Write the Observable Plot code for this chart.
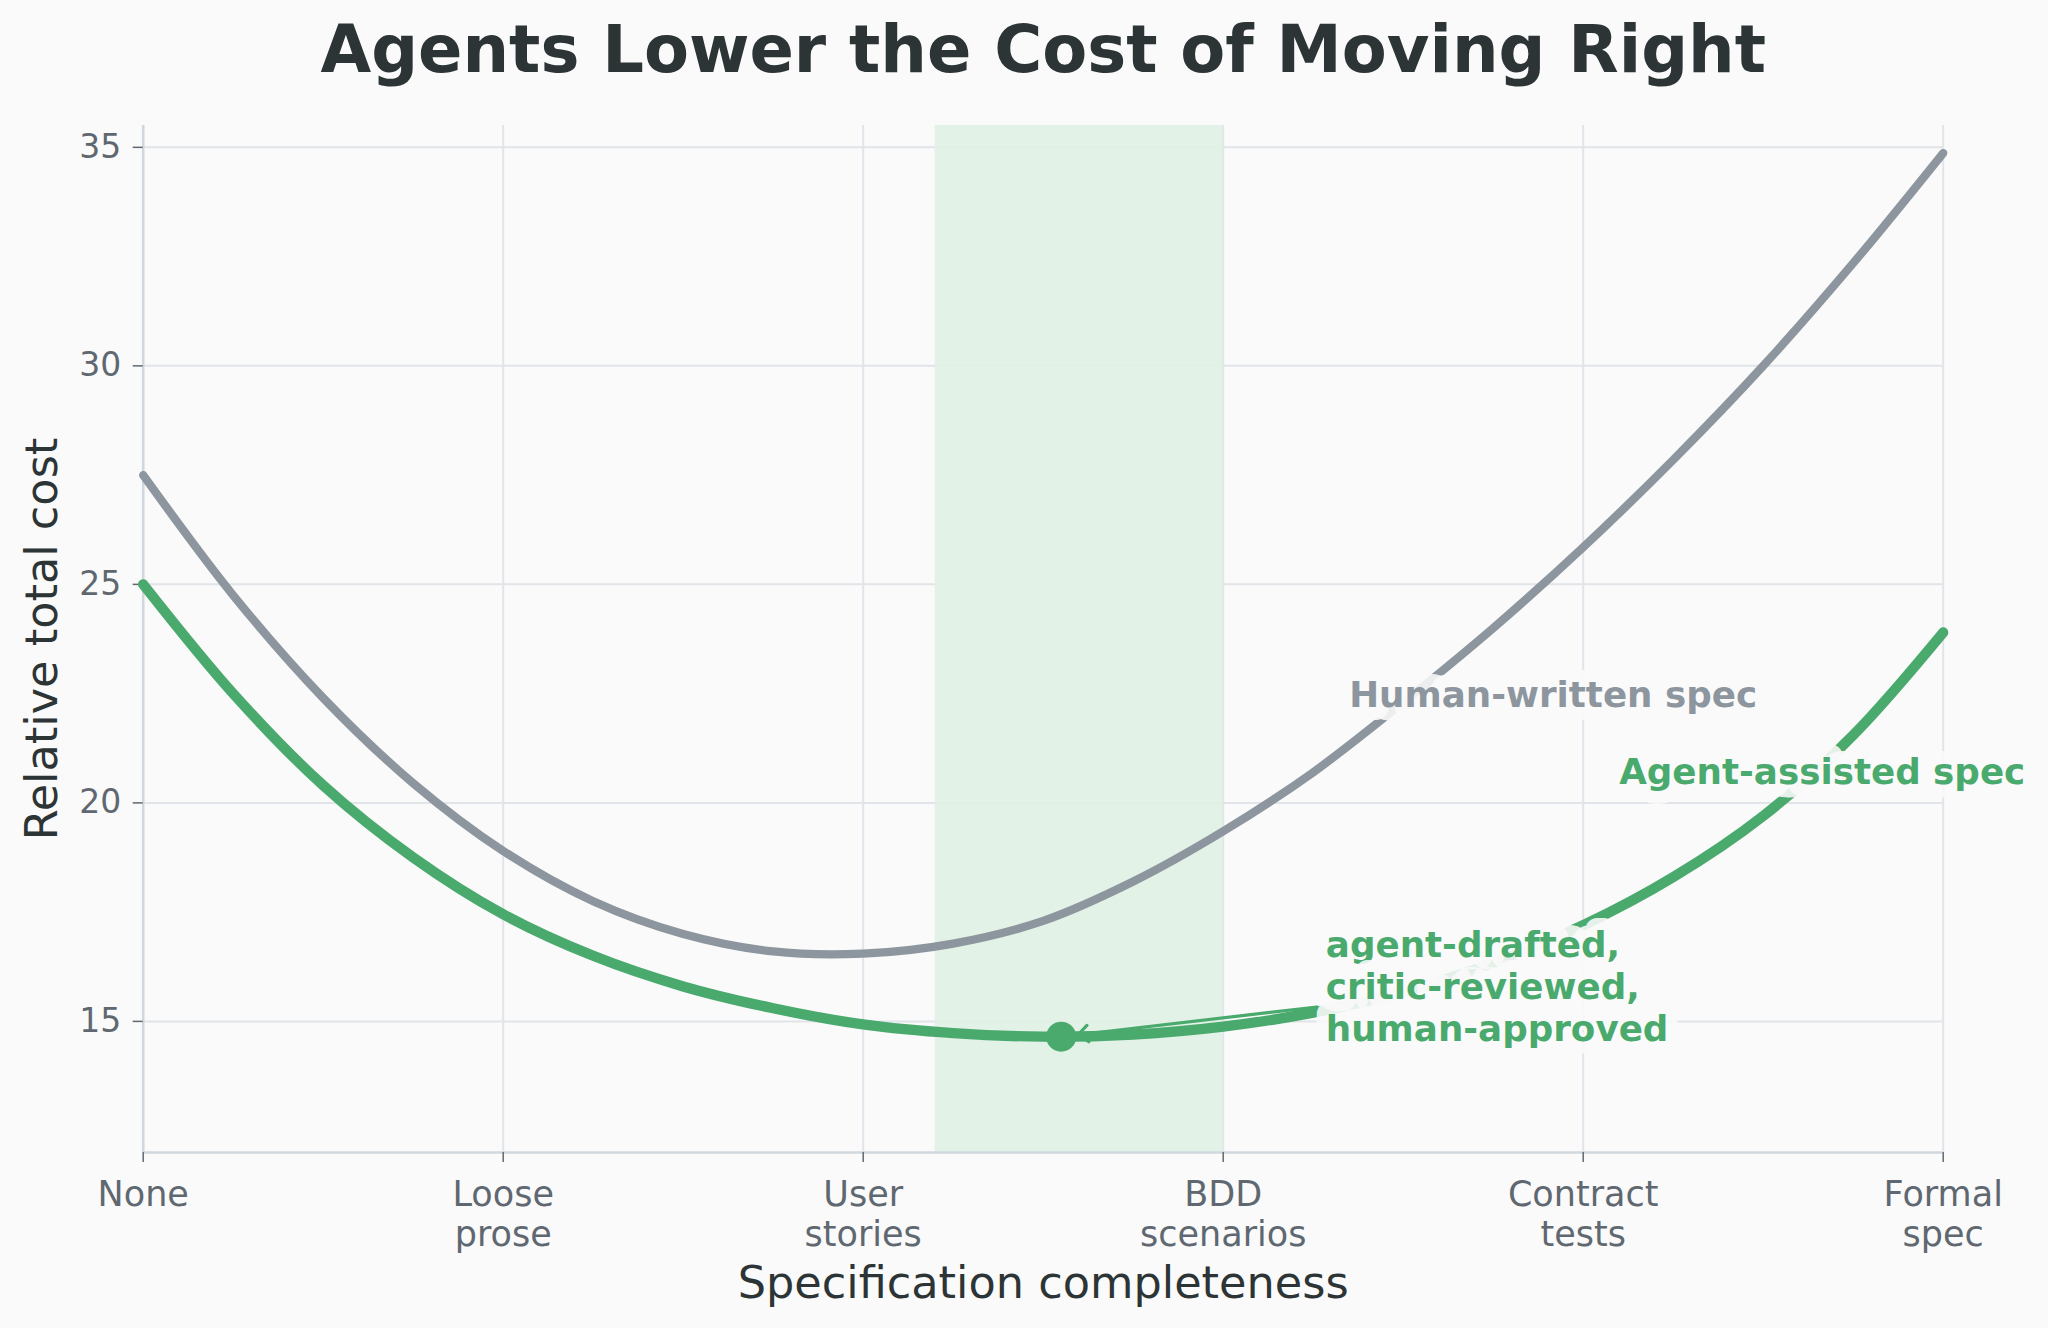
<!DOCTYPE html>
<html>
<head>
<meta charset="utf-8">
<script src="https://cdn.jsdelivr.net/npm/d3@7"></script>
<script src="https://cdn.jsdelivr.net/npm/@observablehq/plot@0.6"></script>
<style>
  html, body { margin: 0; padding: 0; background: #fafafa; }
  #chart svg { display: block; }
</style>
</head>
<body>
<div id="chart"></div>
<script>
// ---- data ----
const stages = ["None", "Loose\nprose", "User\nstories", "BDD\nscenarios", "Contract\ntests", "Formal\nspec"];
const stageTicks = [0, 1, 2, 3, 4, 5];
const sampleX = [0, 0.25, 0.5, 0.75, 1, 1.25, 1.5, 1.75, 2, 2.25, 2.5, 2.75, 3, 3.25, 3.5, 3.75, 4, 4.25, 4.5, 4.75, 5];
const humanCost = [27.5, 24.75, 22.4, 20.45, 18.9, 17.75, 17.0, 16.6, 16.55, 16.78, 17.3, 18.2, 19.35, 20.7, 22.3, 24.0, 25.85, 27.85, 30.0, 32.35, 34.87];
const agentCost = [25.0, 22.5, 20.4, 18.75, 17.45, 16.5, 15.8, 15.3, 14.93, 14.73, 14.65, 14.7, 14.88, 15.2, 15.68, 16.34, 17.2, 18.3, 19.7, 21.55, 23.9];
const yTicks = [15, 20, 25, 30, 35];
const yDomain = [12, 35.5];
const sweetSpot = [2.2, 3.0];
const optimumX = [2.55];
const optimumY = [14.65];
const calloutFrom = [3.26, 15.33];
const seriesLabels = ["Human-written spec", "Agent-assisted spec"];
const seriesLabelX = [3.35, 4.1];
const seriesLabelY = [22.45, 20.7];
const calloutText = ["agent-drafted,\ncritic-reviewed,\nhuman-approved"];
const calloutX = [3.285];
const calloutY = [15.82];
const titleText = "Agents Lower the Cost of Moving Right";
const xLabel = "Specification completeness";
const yLabel = "Relative total cost";

// ---- styling ----
const FONT = "'DejaVu Sans', sans-serif";
const GRAY = "#8d969e";
const GREEN = "#4aaa6e";
const BG = "#fafafa";
const DARK = "#2d3436";
const TICK = "#5f6870";

const human = sampleX.map((x, i) => ({x, y: humanCost[i]}));
const agent = sampleX.map((x, i) => ({x, y: agentCost[i]}));
const optimum = optimumX.map((x, i) => ({x, y: optimumY[i]}));
const arrowData = [{x1: calloutFrom[0], y1: calloutFrom[1], x2: optimumX[0], y2: optimumY[0]}];
const labelData = seriesLabels.map((t, i) => ({t, x: seriesLabelX[i], y: seriesLabelY[i]}));
const calloutData = calloutText.map((t, i) => ({t, x: calloutX[i], y: calloutY[i]}));

const chart = Plot.plot({
  width: 2048,
  height: 1328,
  marginLeft: 142.7,
  marginRight: 105.3,
  marginTop: 125,
  marginBottom: 176,
  style: {background: BG, fontFamily: FONT},
  x: {domain: [0, 5]},
  y: {domain: yDomain},
  marks: [
    Plot.gridX(stageTicks, {stroke: "#e1e4e8", strokeOpacity: 1, strokeWidth: 2}),
    Plot.gridY(yTicks, {stroke: "#e1e4e8", strokeOpacity: 1, strokeWidth: 2}),
    Plot.rect([sweetSpot], {x1: d => d[0], x2: d => d[1], fill: "#dff1e4", fillOpacity: 0.92}),
    Plot.ruleX([0], {stroke: "#d0d7de", strokeWidth: 2.5}),
    Plot.ruleY([yDomain[0]], {stroke: "#d0d7de", strokeWidth: 2.5}),
    Plot.axisX(stageTicks, {
      tickFormat: i => stages[i], fontSize: 35, tickSize: 10, tickPadding: 15,
      lineHeight: 1.14, color: TICK, strokeWidth: 1.5, label: null
    }),
    Plot.axisY(yTicks, {
      fontSize: 33, tickSize: 10, tickPadding: 12, color: TICK, strokeWidth: 1.5, label: null
    }),
    Plot.line(human, {x: "x", y: "y", stroke: GRAY, strokeWidth: 8.3, curve: "catmull-rom"}),
    Plot.line(agent, {x: "x", y: "y", stroke: GREEN, strokeWidth: 10.3, curve: "catmull-rom"}),
    Plot.arrow(arrowData, {
      x1: "x1", y1: "y1", x2: "x2", y2: "y2", stroke: GREEN, strokeWidth: 3.2,
      headLength: 6, headAngle: 80, insetEnd: 17
    }),
    Plot.dot(optimum, {x: "x", y: "y", r: 15, fill: GREEN}),
    Plot.text(labelData, {
      x: "x", y: "y", text: "t", textAnchor: "start", lineAnchor: "middle",
      fontSize: 35.7, fontWeight: "bold", fill: (d, i) => i === 0 ? GRAY : GREEN,
      stroke: BG, strokeOpacity: 0.9, strokeWidth: 26, strokeLinejoin: "round", paintOrder: "stroke"
    }),
    Plot.text(calloutData, {
      x: "x", y: "y", text: "t", textAnchor: "start", lineAnchor: "middle", lineHeight: 1.17,
      fontSize: 35.7, fontWeight: "bold", fill: GREEN,
      stroke: BG, strokeOpacity: 0.9, strokeWidth: 24, strokeLinejoin: "round", paintOrder: "stroke"
    }),
    Plot.text([titleText], {
      text: d => d, frameAnchor: "top", textAnchor: "middle", lineAnchor: "middle",
      dy: -74, fontSize: 65.5, fontWeight: "bold", fill: DARK
    }),
    Plot.text([xLabel], {
      text: d => d, frameAnchor: "bottom", textAnchor: "middle", lineAnchor: "middle",
      dy: 131, fontSize: 44.6, fill: DARK
    }),
    Plot.text([yLabel], {
      text: d => d, frameAnchor: "left", textAnchor: "middle", lineAnchor: "middle",
      dx: -100.5, rotate: -90, fontSize: 44.6, fill: DARK
    })
  ]
});
document.getElementById("chart").appendChild(chart);
</script>
</body>
</html>
